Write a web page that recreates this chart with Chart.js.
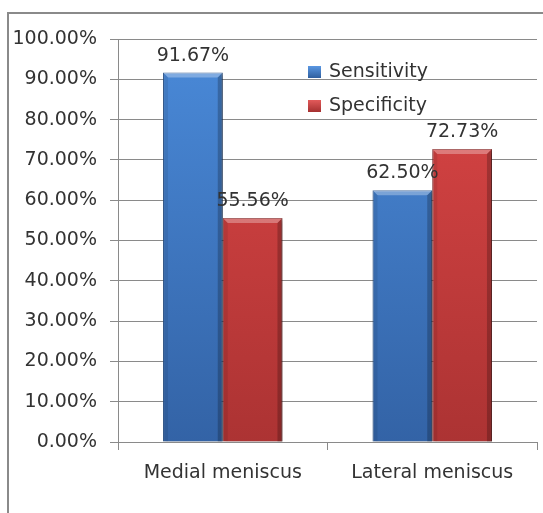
<!DOCTYPE html>
<html>
<head>
<meta charset="utf-8">
<script src="https://cdn.jsdelivr.net/npm/chart.js@4.4.1/dist/chart.umd.min.js"></script>
<style>
  html, body { margin: 0; padding: 0; background: #fff; }
  #chart-container { width: 543px; height: 513px; }
</style>
</head>
<body>
<div id="chart-container"><canvas id="chart"></canvas></div>
<script>
const categories = ['Medial meniscus', 'Lateral meniscus'];
const seriesNames = ['Sensitivity', 'Specificity'];
const sensitivity = [91.67, 62.50];
const specificity = [55.56, 72.73];
const yMax = 100;
const yStep = 10;

const FONT = '"DejaVu Sans", sans-serif';
const TEXT = '#333333';

const barFill = (top, bottom) => (context) => {
    const area = context.chart.chartArea;
    if (!area) return bottom;
    const g = context.chart.ctx.createLinearGradient(0, area.top, 0, area.bottom);
    g.addColorStop(0, top);
    g.addColorStop(1, bottom);
    return g;
};

const legendColors = ['#3f7dd0', '#cc3d3d'];

const framePlugin = {
    id: 'frame',
    beforeDraw: (chart) => {
        const { ctx, width, height } = chart;
        ctx.save();
        ctx.strokeStyle = '#8a8a8a';
        ctx.lineWidth = 2;
        ctx.beginPath();
        ctx.moveTo(8, height);
        ctx.lineTo(8, 13);
        ctx.lineTo(width, 13);
        ctx.stroke();
        ctx.restore();
    }
};

const shadowPlugin = {
    id: 'barShadow',
    beforeDatasetsDraw: (chart) => {
        const ctx = chart.ctx;
        ctx.save();
        ctx.shadowColor = 'rgba(0,0,0,0.35)';
        ctx.shadowBlur = 4;
        ctx.shadowOffsetX = 2;
        ctx.shadowOffsetY = 2;
    },
    afterDatasetsDraw: (chart) => {
        chart.ctx.restore();
    }
};

const bevelPlugin = {
    id: 'bevel',
    afterDatasetsDraw: (chart) => {
        const ctx = chart.ctx;
        ctx.save();
        chart.data.datasets.forEach((ds, i) => {
            chart.getDatasetMeta(i).data.forEach((bar) => {
                const l = bar.x - bar.width / 2;
                const r = bar.x + bar.width / 2;
                const t = bar.y;
                const b = bar.base;
                const e = 5;
                ctx.fillStyle = 'rgba(255,255,255,0.30)';
                ctx.beginPath();
                ctx.moveTo(l, t); ctx.lineTo(r, t); ctx.lineTo(r - e, t + e); ctx.lineTo(l + e, t + e);
                ctx.closePath(); ctx.fill();
                ctx.fillStyle = 'rgba(0,0,0,0.08)';
                ctx.beginPath();
                ctx.moveTo(l, t); ctx.lineTo(l + e, t + e); ctx.lineTo(l + e, b); ctx.lineTo(l, b);
                ctx.closePath(); ctx.fill();
                ctx.fillStyle = 'rgba(0,0,0,0.22)';
                ctx.beginPath();
                ctx.moveTo(r, t); ctx.lineTo(r - e, t + e); ctx.lineTo(r - e, b); ctx.lineTo(r, b);
                ctx.closePath(); ctx.fill();
            });
        });
        ctx.restore();
    }
};

const valueLabelPlugin = {
    id: 'valueLabels',
    afterDatasetsDraw: (chart) => {
        const ctx = chart.ctx;
        ctx.save();
        ctx.font = '19px ' + FONT;
        ctx.fillStyle = TEXT;
        ctx.textAlign = 'center';
        ctx.textBaseline = 'alphabetic';
        chart.data.datasets.forEach((ds, i) => {
            chart.getDatasetMeta(i).data.forEach((bar, j) => {
                ctx.fillText(ds.data[j].toFixed(2) + '%', bar.x, bar.y - 12);
            });
        });
        ctx.restore();
    }
};

const innerLegendPlugin = {
    id: 'innerLegend',
    afterDraw: (chart) => {
        const { ctx, chartArea } = chart;
        ctx.save();
        ctx.font = '19px ' + FONT;
        ctx.textBaseline = 'middle';
        ctx.textAlign = 'left';
        chart.data.datasets.forEach((ds, i) => {
            const x = chartArea.left + 190;
            const y = chartArea.top + 33 + i * 34;
            const g = ctx.createLinearGradient(0, y - 6, 0, y + 6);
            g.addColorStop(0, i === 0 ? '#5a97e2' : '#e25a5a');
            g.addColorStop(1, i === 0 ? '#2f5f9f' : '#a53030');
            ctx.fillStyle = g;
            ctx.fillRect(x, y - 6, 13, 12);
            ctx.fillStyle = TEXT;
            ctx.fillText(ds.label, x + 21, y);
        });
        ctx.restore();
    }
};

new Chart(document.getElementById('chart'), {
    type: 'bar',
    data: {
        labels: categories,
        datasets: [{
            label: seriesNames[0],
            data: sensitivity,
            backgroundColor: barFill('#4a8ad9', '#3363a6'),
            borderColor: '#2d5893',
            borderWidth: 1
        }, {
            label: seriesNames[1],
            data: specificity,
            backgroundColor: barFill('#dc4646', '#ac3333'),
            borderColor: '#8f2a2a',
            borderWidth: 1
        }]
    },
    options: {
        responsive: true,
        maintainAspectRatio: false,
        animation: false,
        layout: { padding: { top: 39, right: 6, bottom: 0, left: 0 } },
        datasets: { bar: { categoryPercentage: 0.57, barPercentage: 1.0 } },
        plugins: {
            legend: { display: false },
            tooltip: { enabled: false }
        },
        scales: {
            x: {
                afterFit: (scale) => { scale.height = 71; },
                grid: { display: true, offset: true, drawOnChartArea: false, tickLength: 8, color: '#8a8a8a' },
                border: { display: true, color: '#8a8a8a' },
                ticks: { color: TEXT, font: { family: FONT, size: 19 }, padding: 12, maxRotation: 0 }
            },
            y: {
                min: 0,
                max: yMax,
                afterFit: (scale) => { scale.width = 118; },
                grid: { color: '#8a8a8a', tickLength: 8 },
                border: { display: true, color: '#8a8a8a' },
                ticks: {
                    stepSize: yStep,
                    color: TEXT,
                    font: { family: FONT, size: 19 },
                    padding: 13,
                    callback: (v) => v.toFixed(2) + '%'
                }
            }
        }
    },
    plugins: [framePlugin, shadowPlugin, bevelPlugin, valueLabelPlugin, innerLegendPlugin]
});
</script>
</body>
</html>
